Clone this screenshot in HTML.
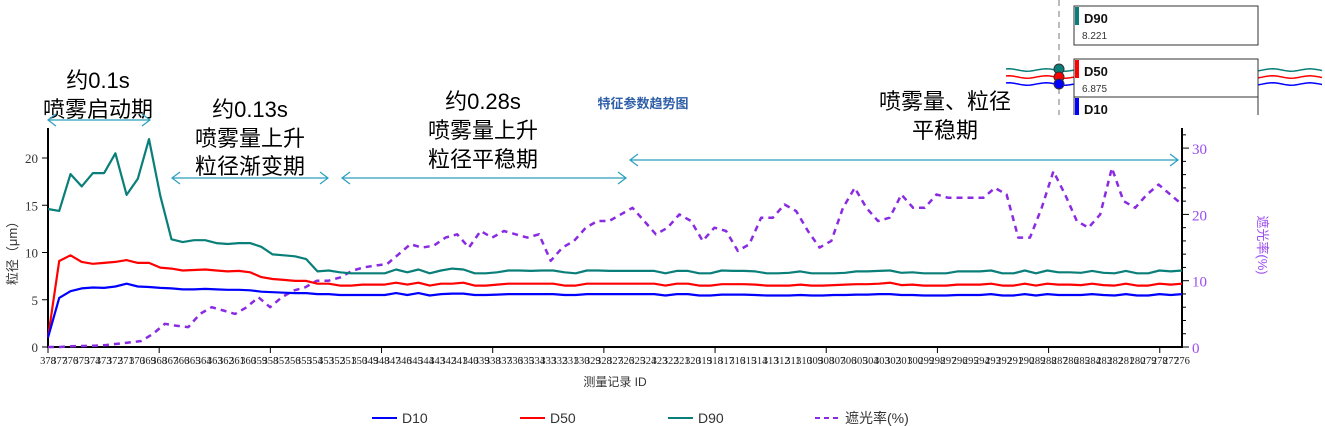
<!DOCTYPE html>
<html><head><meta charset="utf-8"><style>
body{margin:0;width:1325px;height:426px;background:#fff;overflow:hidden}
svg{display:block}
.cn{font-family:"Liberation Sans","Noto Sans CJK SC",sans-serif}
</style></head><body>
<svg id="s" width="1325" height="426" xmlns="http://www.w3.org/2000/svg" class="cn">
<defs><clipPath id="tc"><rect x="1000" y="0" width="325" height="115"/></clipPath></defs>
<g id="g"></g>
</svg>
<script>
const d90=[14.6,14.4,18.3,17,18.4,18.4,20.5,16.1,17.8,22,16,11.4,11.1,11.3,11.3,11,10.9,11,11,10.6,9.8,9.7,9.6,9.3,8,8.1,7.9,7.8,7.8,7.8,7.8,8.2,7.9,8.2,7.8,8.1,8.3,8.2,7.8,7.8,7.9,8.1,8.1,8.05,8.1,8.1,7.9,7.8,8.1,8.1,8.05,8.05,8.05,8.05,8.05,7.8,8.05,8.05,7.8,7.8,8.1,8.05,8.05,8,7.8,7.8,7.85,8,7.8,7.8,7.8,7.85,8,8,8.05,8.1,7.85,7.9,7.8,7.8,7.8,8,8,8,8.1,7.8,7.8,8.1,7.8,8.1,7.9,7.9,7.85,8.05,7.85,7.8,8.05,7.8,7.8,8.1,8,8.1];
const d50=[1,9.1,9.7,9,8.8,8.9,9,9.2,8.9,8.9,8.4,8.3,8.1,8.15,8.2,8.1,8,8.05,7.9,7.4,7.2,7.1,7,7,6.7,6.7,6.5,6.5,6.6,6.6,6.6,6.8,6.6,6.8,6.5,6.7,6.7,6.8,6.5,6.5,6.6,6.7,6.7,6.7,6.7,6.7,6.5,6.5,6.7,6.7,6.7,6.7,6.7,6.7,6.7,6.5,6.7,6.7,6.5,6.5,6.65,6.65,6.65,6.6,6.5,6.5,6.5,6.6,6.5,6.5,6.55,6.6,6.65,6.65,6.7,6.8,6.55,6.6,6.5,6.5,6.5,6.6,6.6,6.6,6.7,6.5,6.5,6.7,6.5,6.7,6.6,6.6,6.55,6.7,6.55,6.5,6.7,6.5,6.5,6.7,6.6,6.7];
const d10=[1,5.2,5.9,6.2,6.3,6.25,6.4,6.7,6.4,6.35,6.25,6.2,6.1,6.1,6.15,6.1,6.05,6.05,6,5.85,5.8,5.75,5.7,5.7,5.6,5.6,5.5,5.5,5.5,5.5,5.5,5.7,5.5,5.7,5.45,5.6,5.65,5.65,5.5,5.5,5.55,5.6,5.6,5.6,5.6,5.6,5.5,5.5,5.6,5.6,5.6,5.6,5.6,5.6,5.6,5.45,5.6,5.6,5.45,5.45,5.55,5.55,5.55,5.5,5.45,5.45,5.45,5.5,5.45,5.45,5.5,5.5,5.55,5.55,5.6,5.6,5.5,5.5,5.45,5.45,5.45,5.5,5.5,5.5,5.6,5.45,5.45,5.6,5.45,5.6,5.5,5.5,5.5,5.6,5.5,5.45,5.6,5.45,5.45,5.6,5.5,5.6];
const sh=[0,0,0.1,0.15,0.2,0.3,0.5,0.7,0.9,2,3.5,3.2,3,5,6,5.5,5,6,7.5,6,7.5,8.5,9,10,10,10.5,11.5,12,12.3,12.5,14,15.5,15,15.3,16.5,17,15,17.5,16.5,17.5,17,16.5,17,13,15,16,18,19,19,20,21,19,17,18,20,19,16,18,17.5,14.5,15.5,19.5,19.5,21.5,20.5,17.5,15,16,21,24,21,19,19.5,23,21,21,23,22.5,22.5,22.5,22.5,24,23,16.5,16.5,21,26.5,23,19,18,20,27,22,21,23,24.5,23,21.5];
const N=103,x0=48,x1=1182,dx=(x1-x0)/(N-1);
const X=i=>x0+i*dx, YL=v=>347-v*9.45, YR=v=>347-v*6.63;
let h='';
const pl=(a,f,c,w,da)=>`<polyline fill="none" stroke="${c}" stroke-width="${w}" ${da?'stroke-dasharray="'+da+'"':''} stroke-linejoin="round" points="${a.map((v,i)=>X(i*(N-1)/(a.length-1)).toFixed(1)+','+f(v).toFixed(1)).join(' ')}"/>`;
// axes
h+=`<line x1="48" y1="128" x2="48" y2="348" stroke="#000" stroke-width="2"/>`;
h+=`<line x1="47" y1="347" x2="1183" y2="347" stroke="#000" stroke-width="2"/>`;
h+=`<line x1="1182" y1="128" x2="1182" y2="348" stroke="#000" stroke-width="2"/>`;
[0,5,10,15,20].forEach(v=>{const y=YL(v);h+=`<line x1="42" y1="${y}" x2="48" y2="${y}" stroke="#000"/><text x="38" y="${y+5}" font-size="13" text-anchor="end" font-family="Liberation Serif,serif" fill="#333">${v}</text>`});
for(let v=0;v<=32;v+=2){const y=YR(v);const m=v%10==0;h+=`<line x1="1182" y1="${y}" x2="${m?1189:1186}" y2="${y}" stroke="#000"/>`;if(m)h+=`<text x="1192" y="${y+6}" font-size="15" font-family="Liberation Serif,serif" fill="#9b4bf2">${v}</text>`}
for(let i=0;i<N;i+=10){h+=`<line x1="${X(i)}" y1="347" x2="${X(i)}" y2="353" stroke="#000"/>`}
for(let i=0;i<N;i++){h+=`<text x="${X(i)}" y="364" font-size="10.5" text-anchor="middle" font-family="Liberation Serif,serif" fill="#222">${378-i}</text>`}
h+=pl(sh,YR,'#8a2be2',2.5,'6,5');
h+=pl(d90,YL,'#0a7f7a',2.2);h+=pl(d50,YL,'#ff0000',2.2);h+=pl(d10,YL,'#0000ff',2.2);
// labels
h+=`<text transform="translate(17,250) rotate(-90)" font-size="13" text-anchor="middle" fill="#333">粒径（μm）</text>`;
h+=`<text transform="translate(1258,245) rotate(90)" font-size="13" text-anchor="middle" fill="#9b4bf2">遮光率(%)</text>`;
h+=`<text x="615" y="386" font-size="12" text-anchor="middle" fill="#333">测量记录 ID</text>`;
h+=`<text x="643" y="108" font-size="13" font-weight="bold" text-anchor="middle" fill="#2f5fa8">特征参数趋势图</text>`;
const T=(x,y,s)=>h+=`<text x="${x}" y="${y}" font-size="22" text-anchor="middle" fill="#000">${s}</text>`;
T(98,88,'约0.1s');T(98,117,'喷雾启动期');
T(250,117,'约0.13s');T(250,146,'喷雾量上升');T(250,174,'粒径渐变期');
T(483,109,'约0.28s');T(483,138,'喷雾量上升');T(483,167,'粒径平稳期');
T(945,109,'喷雾量、粒径');T(945,138,'平稳期');
const A=(a,b,y)=>h+=`<g stroke="#2a9fbf" stroke-width="1.2" fill="none"><line x1="${a}" y1="${y}" x2="${b}" y2="${y}"/><polyline points="${a+8},${y-6} ${a},${y} ${a+8},${y+6}"/><polyline points="${b-8},${y-6} ${b},${y} ${b-8},${y+6}"/></g>`;
A(48,150,120);A(172,328,178);A(342,626,178);A(630,1178,160);
// legend
const L=(x,c,t,da)=>h+=`<line x1="${x}" y1="418" x2="${x+25}" y2="418" stroke="${c}" stroke-width="2" ${da?'stroke-dasharray="5,4"':''}/><text x="${x+30}" y="423" font-size="14" fill="#333">${t}</text>`;
L(372,'#0000ff','D10');L(520,'#ff0000','D50');L(668,'#0a7f7a','D90');L(815,'#8a2be2','遮光率(%)',1);
// tooltip
h+=`<g clip-path="url(#tc)"><line x1="1059" y1="0" x2="1059" y2="115" stroke="#bbb" stroke-width="2" stroke-dasharray="6,5"/>`;
const w=(y,c)=>{let p='';for(let x=1006;x<=1325;x+=4)p+=x+','+(y+Math.sin(x/6)*1.2).toFixed(1)+' ';h+=`<polyline points="${p}" fill="none" stroke="${c}" stroke-width="1.5"/>`};
w(70,'#0a7f7a');w(77,'#ff0000');w(84,'#0000ff');
h+=`<circle cx="1059" cy="69" r="5" fill="#0a7f7a" stroke="#333"/><circle cx="1059" cy="77" r="5" fill="#ff0000" stroke="#333"/><circle cx="1059" cy="84" r="5" fill="#0000ff" stroke="#333"/>`;
const B=(y,c,t,v)=>{h+=`<rect x="1074" y="${y}" width="184" height="39" fill="#fff" stroke="#333"/><rect x="1075" y="${y+1}" width="4" height="18" fill="${c}"/><text x="1084" y="${y+17}" font-size="13" font-weight="bold" fill="#111">${t}</text>`;if(v)h+=`<text x="1082" y="${y+33}" font-size="10" fill="#333">${v}</text>`};
B(6,'#0a7f7a','D90','8.221');B(59,'#ff0000','D50','6.875');B(97,'#0000ff','D10','');
h+=`</g>`;
document.getElementById('g').innerHTML=h;
</script>
</body></html>
